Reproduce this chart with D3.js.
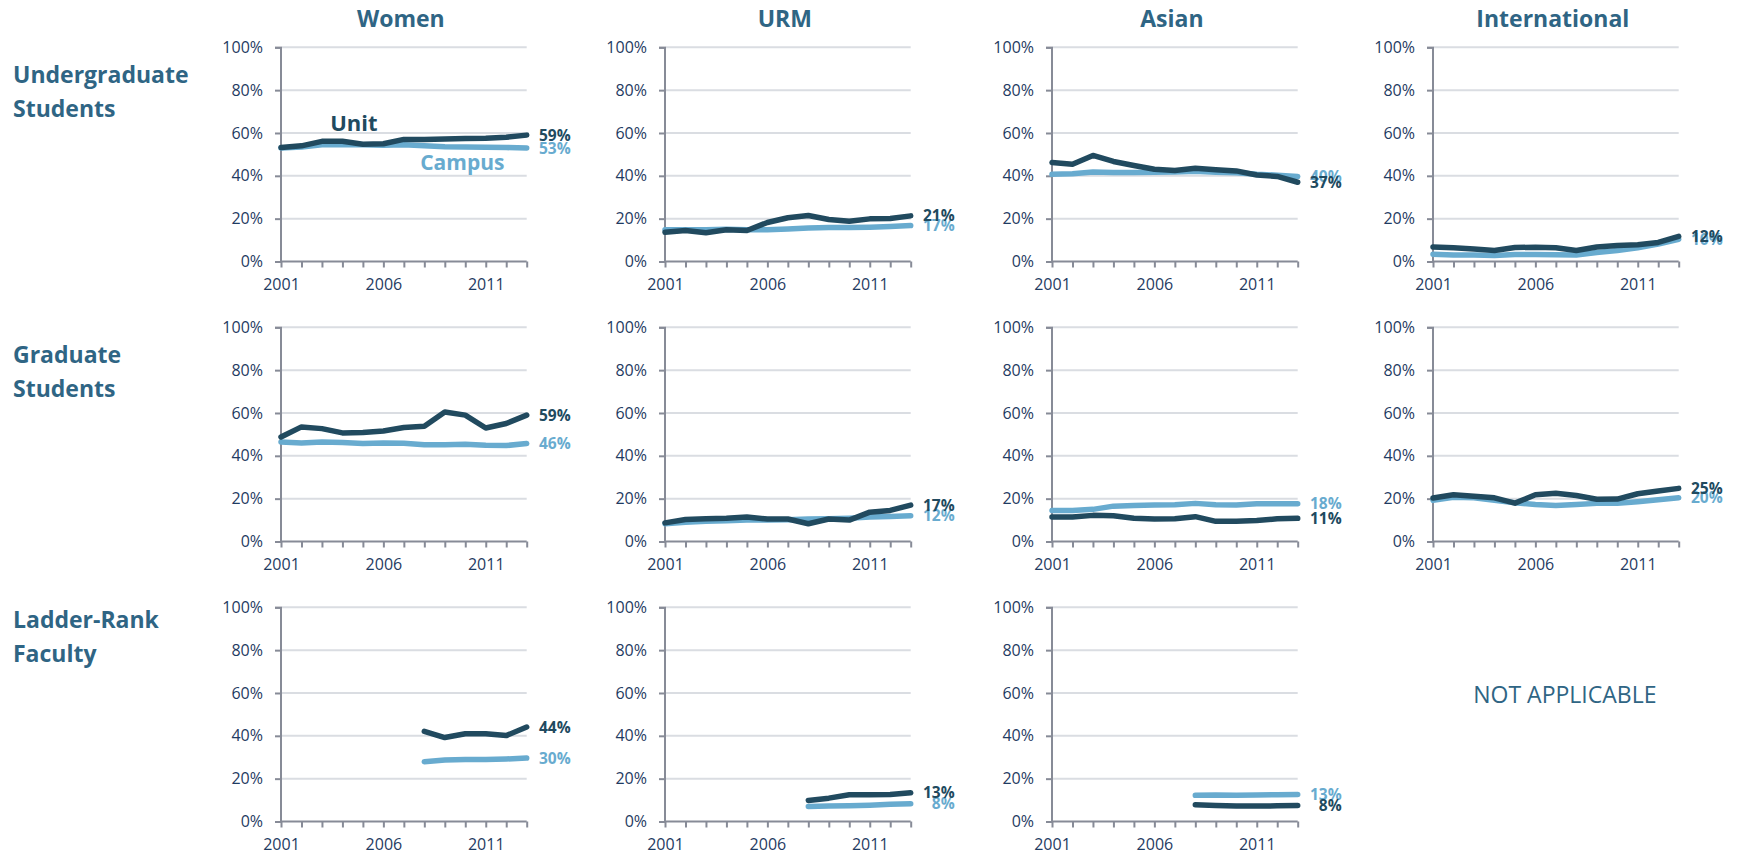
<!DOCTYPE html>
<html>
<head>
<meta charset="utf-8">
<script src="https://cdn.jsdelivr.net/npm/d3@7"></script>
<style>
  html, body { margin: 0; padding: 0; background: #fff; }
  svg { display: block; }
</style>
</head>
<body>
<svg id="chart" width="1739" height="856"></svg>
<script>
// ---------- DATA ----------
const columnTitles = ["Women", "URM", "Asian", "International"];
const rowTitles = [["Undergraduate", "Students"], ["Graduate", "Students"], ["Ladder-Rank", "Faculty"]];
const yearsAll = [2001, 2002, 2003, 2004, 2005, 2006, 2007, 2008, 2009, 2010, 2011, 2012, 2013];
const yearsFaculty = [2008, 2009, 2010, 2011, 2012, 2013];
const xTickLabels = [2001, 2006, 2011];
const yTickValues = [0, 20, 40, 60, 80, 100];

// Undergraduate students
const ugWomenUnit   = [53.2, 54.0, 56.1, 56.1, 54.7, 55.0, 57.0, 57.0, 57.2, 57.4, 57.5, 58.0, 59.0];
const ugWomenCampus = [53.0, 53.5, 54.5, 54.5, 54.5, 54.3, 54.5, 54.0, 53.6, 53.5, 53.3, 53.2, 53.0];
const ugUrmUnit     = [13.7, 14.5, 13.4, 14.8, 14.5, 18.2, 20.4, 21.5, 19.6, 18.8, 19.9, 20.1, 21.3];
const ugUrmCampus   = [14.8, 14.8, 14.8, 15.1, 14.8, 14.8, 15.2, 15.6, 15.9, 15.9, 16.0, 16.3, 16.8];
const ugAsianUnit   = [46.2, 45.4, 49.5, 46.7, 44.8, 43.1, 42.5, 43.5, 42.8, 42.3, 40.4, 39.7, 37.0];
const ugAsianCampus = [40.7, 41.0, 41.8, 41.5, 41.5, 41.7, 41.8, 42.1, 41.7, 41.4, 40.7, 40.3, 39.7];
const ugIntlUnit    = [6.8, 6.4, 5.8, 5.1, 6.5, 6.7, 6.4, 5.1, 6.8, 7.5, 7.8, 8.9, 11.7];
const ugIntlCampus  = [3.4, 3.0, 3.0, 2.8, 3.3, 3.3, 3.1, 3.0, 4.2, 5.1, 6.4, 8.1, 10.4];

// Graduate students
const grWomenUnit   = [48.8, 53.5, 52.7, 50.7, 50.9, 51.6, 53.2, 53.8, 60.5, 59.0, 53.0, 55.1, 59.0];
const grWomenCampus = [46.5, 46.0, 46.5, 46.2, 45.7, 46.0, 45.9, 45.2, 45.2, 45.4, 44.9, 44.8, 45.7];
const grUrmUnit     = [8.7, 10.3, 10.6, 10.8, 11.4, 10.5, 10.5, 8.3, 10.5, 10.0, 13.7, 14.5, 17.0];
const grUrmCampus   = [8.3, 9.0, 9.4, 9.7, 10.0, 10.0, 10.1, 10.5, 10.6, 10.9, 11.4, 11.7, 12.0];
const grAsianUnit   = [11.4, 11.4, 12.2, 12.0, 10.9, 10.5, 10.6, 11.6, 9.4, 9.5, 9.8, 10.6, 10.8];
const grAsianCampus = [14.5, 14.5, 15.0, 16.5, 16.8, 17.0, 17.2, 17.8, 17.2, 17.0, 17.6, 17.6, 17.6];
const grIntlUnit    = [20.3, 21.8, 21.1, 20.4, 17.9, 21.8, 22.5, 21.5, 19.7, 19.8, 22.3, 23.6, 24.8];
const grIntlCampus  = [19.2, 20.7, 20.4, 19.2, 18.1, 17.3, 16.8, 17.3, 17.8, 17.9, 18.6, 19.5, 20.4];

// Ladder-rank faculty (2008 onward)
const faWomenUnit   = [42.1, 39.2, 41.0, 41.0, 40.1, 44.1];
const faWomenCampus = [27.9, 28.7, 29.0, 29.0, 29.2, 29.6];
const faUrmUnit     = [9.8, 10.9, 12.5, 12.5, 12.6, 13.4];
const faUrmCampus   = [7.0, 7.2, 7.3, 7.6, 8.1, 8.3];
const faAsianUnit   = [7.8, 7.5, 7.2, 7.2, 7.3, 7.5];
const faAsianCampus = [12.2, 12.4, 12.3, 12.4, 12.5, 12.6];

const notApplicableText = "NOT APPLICABLE";

// panels: [row][col] -> {years, unit, campus} or null
const panels = [
  [
    { years: yearsAll, unit: ugWomenUnit, campus: ugWomenCampus },
    { years: yearsAll, unit: ugUrmUnit, campus: ugUrmCampus },
    { years: yearsAll, unit: ugAsianUnit, campus: ugAsianCampus },
    { years: yearsAll, unit: ugIntlUnit, campus: ugIntlCampus }
  ],
  [
    { years: yearsAll, unit: grWomenUnit, campus: grWomenCampus },
    { years: yearsAll, unit: grUrmUnit, campus: grUrmCampus },
    { years: yearsAll, unit: grAsianUnit, campus: grAsianCampus },
    { years: yearsAll, unit: grIntlUnit, campus: grIntlCampus }
  ],
  [
    { years: yearsFaculty, unit: faWomenUnit, campus: faWomenCampus },
    { years: yearsFaculty, unit: faUrmUnit, campus: faUrmCampus },
    { years: yearsFaculty, unit: faAsianUnit, campus: faAsianCampus },
    null
  ]
];

// ---------- LAYOUT / STYLE ----------
const colLeft = [281, 665, 1052, 1433];
const rowTop = [47.3, 327.3, 607.3];
const plotW = 245.7;
const plotH = 214.2;
const FONT = "'Open Sans', 'Noto Sans', sans-serif";
const C_TITLE = "#2f6584";
const C_TICK = "#1f3b62";
const C_UNIT = "#214a5f";
const C_CAMPUS = "#68abcf";
const C_GRID = "#dadde2";
const C_AXIS = "#878b97";

const svg = d3.select("#chart");

// column titles
columnTitles.forEach((t, c) => {
  svg.append("text")
    .attr("x", colLeft[c] + plotW / 2 - 3)
    .attr("y", 27)
    .attr("text-anchor", "middle")
    .attr("font-family", FONT)
    .attr("font-weight", 700)
    .attr("font-size", 23)
    .attr("fill", C_TITLE)
    .text(t);
});

// row titles
const rowTitleBase = [83.3, 363.3, 628.3];
rowTitles.forEach((lines, r) => {
  lines.forEach((ln, i) => {
    svg.append("text")
      .attr("x", 13)
      .attr("y", rowTitleBase[r] + i * 33.3)
      .attr("font-family", FONT)
      .attr("font-weight", 700)
      .attr("font-size", 23)
      .attr("fill", C_TITLE)
      .text(ln);
  });
});

panels.forEach((row, r) => {
  row.forEach((p, c) => {
    const g = svg.append("g").attr("transform", `translate(${colLeft[c]},${rowTop[r]})`);
    if (!p) {
      svg.append("text")
        .attr("x", colLeft[c] + plotW / 2 + 9)
        .attr("y", rowTop[r] + 96)
        .attr("text-anchor", "middle")
        .attr("font-family", FONT)
        .attr("font-size", 23)
        .attr("fill", C_TITLE)
        .text(notApplicableText);
      return;
    }
    const x = d3.scaleLinear().domain([yearsAll[0], yearsAll[yearsAll.length - 1]]).range([0, plotW]);
    const y = d3.scaleLinear().domain([0, 100]).range([plotH, 0]);

    // gridlines
    g.append("g").selectAll("line")
      .data(yTickValues.filter(v => v > 0))
      .join("line")
      .attr("x1", 0).attr("x2", plotW)
      .attr("y1", d => y(d)).attr("y2", d => y(d))
      .attr("stroke", C_GRID).attr("stroke-width", 2);

    // y axis
    const yAxis = d3.axisLeft(y).tickValues(yTickValues).tickFormat(d => d + "%").tickSize(6).tickPadding(12);
    const ya = g.append("g").call(yAxis);
    ya.select(".domain").attr("d", `M-6,0.5H0V${plotH}`).attr("stroke", C_AXIS).attr("stroke-width", 2);
    ya.selectAll(".tick line").attr("stroke", C_AXIS).attr("stroke-width", 2);
    ya.selectAll(".tick text").attr("font-family", FONT).attr("font-size", 16).attr("fill", C_TICK);

    // x axis
    const xAxis = d3.axisBottom(x).tickValues(yearsAll).tickFormat(d => xTickLabels.includes(d) ? d : "").tickSize(6).tickPadding(11);
    const xa = g.append("g").attr("transform", `translate(0,${plotH})`).call(xAxis);
    xa.select(".domain").attr("d", `M0,0H${plotW}`).attr("stroke", C_AXIS).attr("stroke-width", 2);
    xa.selectAll(".tick line").attr("stroke", C_AXIS).attr("stroke-width", 2);
    xa.selectAll(".tick text").attr("font-family", FONT).attr("font-size", 16).attr("fill", C_TICK);

    const line = d3.line().x(d => x(d[0])).y(d => y(d[1]));
    const series = [
      { vals: p.campus, color: C_CAMPUS },
      { vals: p.unit, color: C_UNIT }
    ];
    series.forEach(s => {
      const pts = p.years.map((yr, i) => [yr, s.vals[i]]);
      g.append("path").datum(pts)
        .attr("d", line)
        .attr("fill", "none")
        .attr("stroke", s.color)
        .attr("stroke-width", 5.5)
        .attr("stroke-linecap", "round")
        .attr("stroke-linejoin", "round");
    });
    series.forEach(s => {
      const last = s.vals[s.vals.length - 1];
      g.append("text")
        .attr("x", plotW + 44)
        .attr("y", y(last))
        .attr("dy", "0.36em")
        .attr("text-anchor", "end")
        .attr("font-family", FONT)
        .attr("font-weight", 700)
        .attr("font-size", 15.5)
        .attr("fill", s.color)
        .text(Math.round(last) + "%");
    });

    // legend-style annotations in first panel
    if (r === 0 && c === 0) {
      g.append("text")
        .attr("x", x(2003.4)).attr("y", y(60.7))
        .attr("font-family", FONT).attr("font-weight", 700).attr("font-size", 22)
        .attr("fill", C_UNIT).text("Unit");
      g.append("text")
        .attr("x", x(2007.8)).attr("y", y(42.5))
        .attr("font-family", FONT).attr("font-weight", 700).attr("font-size", 21)
        .attr("fill", C_CAMPUS).text("Campus");
    }
  });
});
</script>
</body>
</html>
